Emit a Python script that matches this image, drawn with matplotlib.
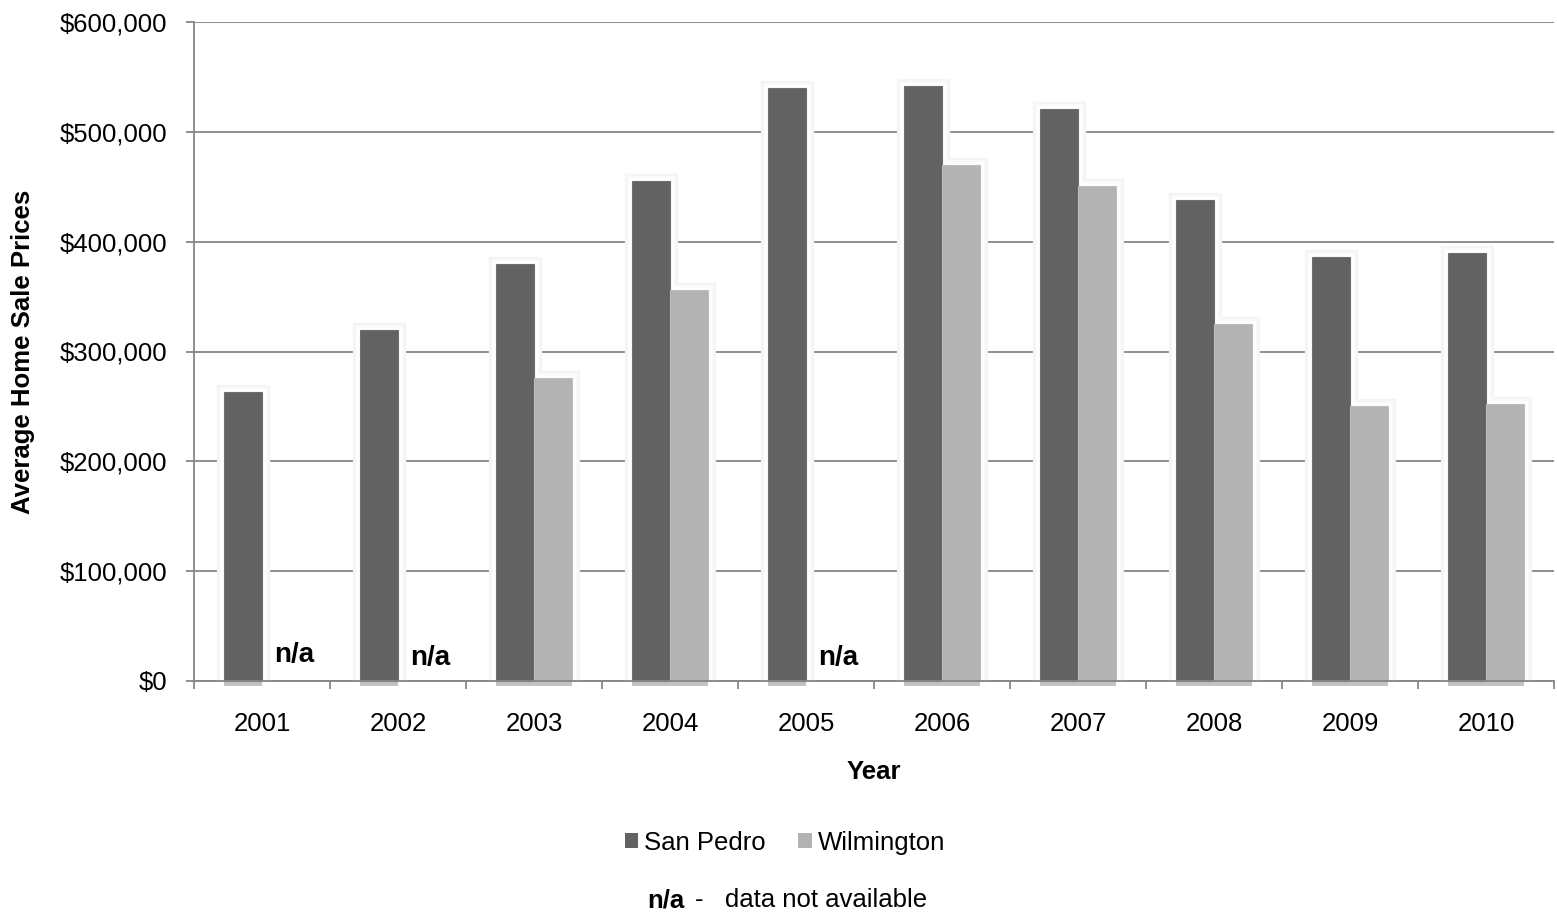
import matplotlib
matplotlib.use("Agg")
import matplotlib.pyplot as plt
import matplotlib.patheffects as pe
from matplotlib.ticker import FuncFormatter, MultipleLocator
import numpy as np

plt.rcParams['font.family'] = ['Liberation Sans', 'DejaVu Sans']

years = ["2001", "2002", "2003", "2004", "2005", "2006", "2007", "2008", "2009", "2010"]
san_pedro = [263000, 320000, 380000, 455000, 540000, 542000, 521000, 438000, 386000, 390000]
wilmington = [None, None, 276000, 356000, None, 470000, 451000, 325000, 250000, 252000]
na_baseline = [17500, 14500, None, None, 14500, None, None, None, None, None]

dark = "#626262"
light = "#b3b3b3"
grid_c = "#868686"
fs = 18.5

W, H = 1557, 914
fig = plt.figure(figsize=(W / 100, H / 100), dpi=100)
L, R, T, B = 194, 1554, 22, 681
ax = fig.add_axes([L / W, 1 - B / H, (R - L) / W, (B - T) / H])

x = np.arange(len(years))
w = 0.28

sp_vals = np.array(san_pedro, dtype=float)
wl_vals = np.array([np.nan if v is None else v for v in wilmington], dtype=float)
wl_mask = ~np.isnan(wl_vals)

series = [(x - w / 2, sp_vals), (x[wl_mask] + w / 2, wl_vals[wl_mask])]

# soft glow around each bar: layered strokes, outer faint grey to inner white
for lw, col in [(11, "#f4f4f4"), (8, "#f9f9f9"), (5, "white")]:
    for xs, vals in series:
        ax.bar(xs, vals, width=w, color="white", edgecolor=col,
               linewidth=lw, zorder=2)

bar_fx = [pe.SimplePatchShadow(offset=(0, -3.5), shadow_rgbFace="#7a7a7a", alpha=0.45),
          pe.Normal()]
b1 = ax.bar(series[0][0], series[0][1], width=w, color=dark, edgecolor="#6e6e6e",
            linewidth=0.8, zorder=3, label="San Pedro", clip_on=False)
b2 = ax.bar(series[1][0], series[1][1], width=w, color=light, edgecolor="#bdbdbd",
            linewidth=0.8, zorder=3, label="Wilmington", clip_on=False)
for p in list(b1) + list(b2):
    p.set_path_effects(bar_fx)

for i, yv in enumerate(na_baseline):
    if yv is not None:
        ax.text(x[i] + 0.088, yv, "n/a", ha="left", va="baseline",
                fontsize=20, fontweight="bold", color="black", zorder=4)

ax.set_xlim(-0.5, len(years) - 0.5)
ax.set_ylim(0, 600000)
ax.yaxis.set_major_locator(MultipleLocator(100000))
ax.yaxis.set_major_formatter(FuncFormatter(lambda v, _: f"${v:,.0f}"))
ax.set_xticks(x)
ax.set_xticklabels(years)
ax.set_xticks(np.arange(-0.5, len(years)), minor=True)

ax.grid(axis="y", color=grid_c, linewidth=1.3, zorder=0)
ax.set_axisbelow(True)
for s in ["top", "right"]:
    ax.spines[s].set_visible(False)
for s in ["left", "bottom"]:
    ax.spines[s].set_color(grid_c)
    ax.spines[s].set_linewidth(1.3)
    ax.spines[s].set_zorder(3.5)

ax.tick_params(axis="y", which="major", length=6, width=1.3, color=grid_c,
               labelsize=fs, pad=13)
ax.tick_params(axis="x", which="major", length=0, labelsize=fs, pad=22)
ax.tick_params(axis="x", which="minor", length=6, width=1.3, color=grid_c)

ax.set_ylabel("Average Home Sale Prices", fontsize=fs, fontweight="bold", va="center")
ax.yaxis.set_label_coords((23 - L) / (R - L), 0.5)
ax.set_xlabel("Year", fontsize=fs, fontweight="bold", va="center")
ax.xaxis.set_label_coords(0.5, (B - 772) / (B - T))

leg = fig.legend(handles=[b1, b2], labels=["San Pedro", "Wilmington"],
                 loc="center", bbox_to_anchor=(785 / W, 1 - 843 / H), ncol=2,
                 frameon=False, fontsize=fs, handlelength=0.52, handleheight=0.52,
                 handletextpad=0.25, columnspacing=1.25, borderpad=0)
for h in leg.legend_handles:
    h.set_edgecolor("none")
    h.set_path_effects([])

fig.text(647 / W, 1 - 900 / H, "n/a", ha="left", va="center", fontsize=fs, fontweight="bold")
fig.text(695 / W, 1 - 900 / H, "-   data not available", ha="left", va="center", fontsize=fs)

fig.savefig("out.png", dpi=100, facecolor="white")
